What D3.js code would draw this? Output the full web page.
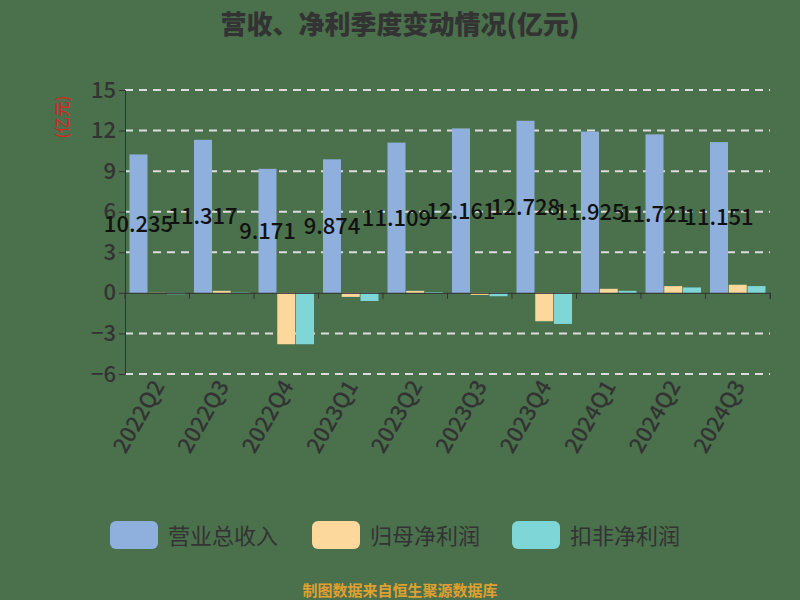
<!DOCTYPE html><html><head><meta charset="utf-8"><script src="https://cdn.jsdelivr.net/npm/d3@7"></script>
<style>body{margin:0;background:#4a704c}</style></head><body><svg id="c" width="800" height="600"></svg>
<script>
const categories=["2022Q2","2022Q3","2022Q4","2023Q1","2023Q2","2023Q3","2023Q4","2024Q1","2024Q2","2024Q3"];
const revenue=[10.235,11.317,9.171,9.874,11.109,12.161,12.728,11.925,11.721,11.151];
const netProfit=[0.02,0.15,-3.8,-0.3,0.15,-0.15,-2.1,0.3,0.5,0.6];
const deductedProfit=[-0.1,0.03,-3.8,-0.6,0.05,-0.25,-2.3,0.15,0.4,0.5];
const yTicks=[-6,-3,0,3,6,9,12,15];
const seriesNames=["营业总收入","归母净利润","扣非净利润"];
const colors=["#8fb0dd","#fcd89c","#7fd6d6"];
const font="'Noto Sans CJK SC',sans-serif";
const svg=d3.select("#c");
svg.append("rect").attr("width",800).attr("height",600).attr("fill","#4a704c");
const x=d3.scaleBand().domain(categories).range([125,770]);
const y=d3.scaleLinear().domain([-6,15]).range([374,90]);
const x1=d3.scaleBand().domain([0,1,2]).range([4.5,x.bandwidth()-4.5]).paddingInner(0.04);
svg.append("text").attr("x",400).attr("y",34).attr("text-anchor","middle").attr("font-family",font).attr("font-size",26).attr("font-weight","900").attr("fill","#333").text("营收、净利季度变动情况(亿元)");
const g=svg.append("g");
g.selectAll(".gl").data(yTicks).join("line").attr("x1",125).attr("x2",770).attr("y1",d=>y(d)).attr("y2",d=>y(d)).attr("stroke","#ddd").attr("stroke-width",2).attr("stroke-dasharray","8,6").attr("opacity",d=>d===0?0:1);
const series=[revenue,netProfit,deductedProfit];
series.forEach((s,i)=>{
 g.selectAll(".b"+i).data(s).join("rect").attr("x",(d,j)=>x(categories[j])+x1(i)).attr("width",x1.bandwidth())
  .attr("y",d=>y(Math.max(0,d))).attr("height",d=>Math.abs(y(d)-y(0))).attr("fill",colors[i]);
});
const ya=svg.append("g").attr("transform","translate(125,0)").call(d3.axisLeft(y).tickValues(yTicks).tickSize(6));
ya.selectAll("text").attr("font-family",font).attr("font-size",22).attr("font-weight","500").attr("fill","#333");
ya.selectAll("line,path").attr("stroke","#333");
const xa=svg.append("g").attr("transform",`translate(0,${y(0)})`).call(d3.axisBottom(x).tickSize(6).tickFormat(""));
xa.selectAll("line,path").attr("stroke","#333");
xa.selectAll(".tick line").attr("transform",`translate(${x.bandwidth()/2},0)`);
svg.append("line").attr("x1",125).attr("x2",125).attr("y1",y(0)).attr("y2",y(0)+6).attr("stroke","#333");
svg.selectAll(".xl").data(categories).join("text").attr("font-family",font).attr("font-size",22).attr("font-weight","500").attr("fill","#333").attr("text-anchor","end")
 .attr("transform",d=>`translate(${x(d)+x.bandwidth()/2+8},${386}) rotate(-60)`).text(d=>d);
svg.selectAll(".vl").data(revenue).join("text").attr("font-family",font).attr("font-size",22).attr("font-weight","500").attr("fill","#111").attr("text-anchor","middle")
 .attr("x",(d,j)=>x(categories[j])+x1(0)+x1.bandwidth()/2).attr("y",d=>(y(d)+y(0))/2+8).text(d=>d);
svg.append("text").attr("transform","translate(68,117) rotate(-90)").attr("text-anchor","middle").attr("font-family",font).attr("font-size",16).attr("fill","#d22").text("(亿元)");
const lg=svg.append("g");
seriesNames.forEach((n,i)=>{
 const lx=[110,312,512][i];
 lg.append("rect").attr("x",lx).attr("y",521).attr("width",48).attr("height",28).attr("rx",6).attr("fill",colors[i]);
 lg.append("text").attr("x",lx+58).attr("y",544).attr("font-family",font).attr("font-size",22).attr("fill","#333").text(n);
});
svg.append("text").attr("x",400).attr("y",596).attr("text-anchor","middle").attr("font-family",font).attr("font-size",15).attr("font-weight","bold").attr("fill","#e0a030").text("制图数据来自恒生聚源数据库");
</script></body></html>
